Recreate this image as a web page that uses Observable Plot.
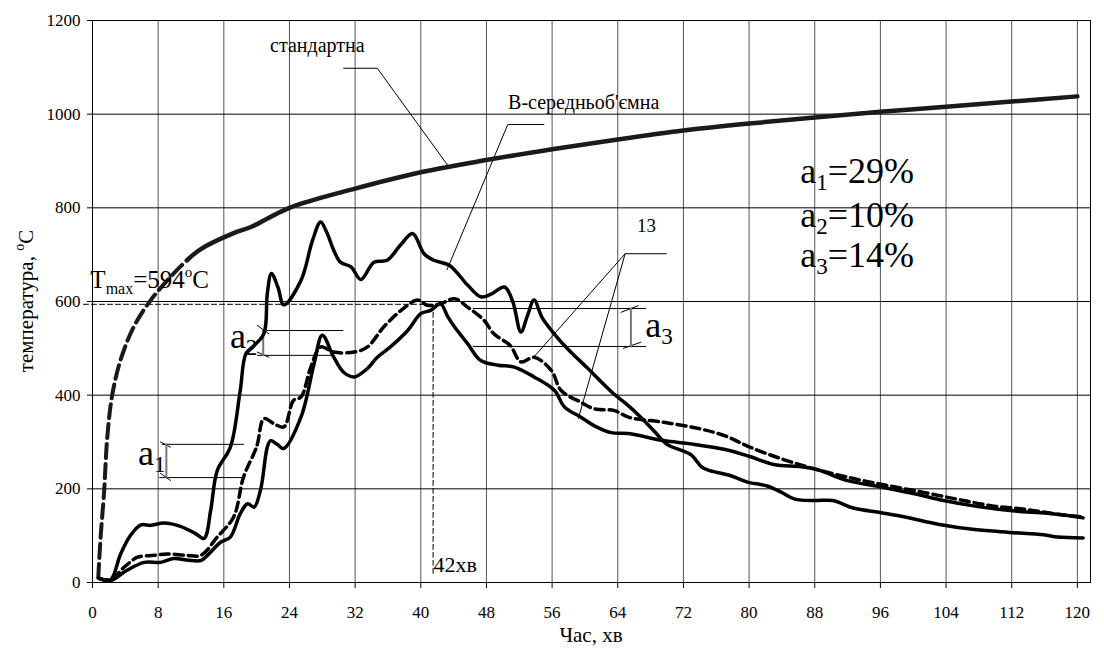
<!DOCTYPE html>
<html><head><meta charset="utf-8">
<script src="https://cdn.jsdelivr.net/npm/d3@7"></script>
<script src="https://cdn.jsdelivr.net/npm/@observablehq/plot@0.6"></script>
<style>body{margin:0;background:#fff}</style>
</head><body><div id="chart"></div>
<script>
// ---- ticks ----
const xTicks = [0, 8, 16, 24, 32, 40, 48, 56, 64, 72, 80, 88, 96, 104, 112, 120];
const yTicks = [0, 200, 400, 600, 800, 1000, 1200];

// ---- standard fire curve ----
const stdTime = [0.7, 1.0, 1.4, 1.8, 2.4, 3.4, 5.0, 7.1, 9.9, 11.5, 13.2, 17.2, 19.3, 24, 32, 40, 48, 56, 64, 72, 80, 88, 96, 104, 112, 120];
const stdTemp = [10, 100, 190, 310, 400, 474, 545, 603, 660, 688, 712, 746, 759, 800, 841, 876, 902, 925, 946, 965, 980, 993, 1005, 1016, 1027, 1038];

// ---- B - volume average (upper solid) ----
const avgTime = [0.8, 2.2, 3.4, 4.6, 5.9, 7.1, 8.7, 10.7, 12.5, 13.6, 14.4, 15.2, 16.8, 18.0, 18.7, 19.7, 20.9, 21.3, 21.8, 22.6, 23.3, 25.4, 26.8, 27.8, 28.6, 29.4, 30.2, 31.5, 32.7, 34.3, 35.9, 37.5, 39.0, 40.4, 41.6, 43.5, 45.7, 47.3, 48.5, 50.2, 51.2, 52.2, 53.0, 53.8, 54.8, 56.3, 58.0, 60.3, 63.5, 65.0, 66.8, 68.5, 70.0, 72.9, 74.2, 75.0, 77.6, 79.7, 82.2, 83.9, 85.6, 88, 90.2, 92.7, 96.1, 99, 103.2, 107.5, 111.7, 115.9, 117.6, 120.7];
const avgTemp = [9, 6, 60, 100, 123, 122, 127, 120, 105, 94, 154, 239, 289, 410, 489, 506, 532, 617, 660, 630, 593, 645, 730, 770, 745, 709, 684, 674, 647, 684, 688, 720, 745, 702, 688, 677, 635, 610, 615, 631, 600, 535, 570, 603, 565, 530, 497, 458, 403, 382, 353, 322, 295, 273, 247, 240, 229, 215, 206, 193, 178, 175, 175, 159, 149, 140, 124, 113, 107, 102, 97, 95];

// ---- 13 (lower solid) ----
const lowTime = [0.8, 2.2, 4.2, 6.3, 8.3, 9.9, 11.5, 13.2, 14.0, 15.6, 16.8, 18.0, 18.9, 19.7, 20.5, 21.3, 21.7, 22.5, 23.3, 25.4, 27.0, 28.0, 29.4, 30.6, 31.9, 33.5, 34.7, 36.3, 38.4, 40.0, 41.2, 42.4, 43.3, 44.1, 45.7, 47.3, 49.4, 51.4, 53.8, 56.3, 57.5, 59.5, 61.1, 63.2, 65.3, 69.6, 72.9, 77.1, 80.1, 83, 86.4, 88.5, 91.9, 96.1, 100.3, 103.7, 107.9, 112.1, 116.3, 118.8, 120.7];
const lowTemp = [9, 4, 26, 43, 43, 51, 48, 47, 58, 86, 97, 147, 168, 161, 200, 289, 303, 295, 286, 353, 467, 528, 481, 449, 439, 457, 481, 503, 538, 574, 581, 595, 567, 546, 510, 474, 464, 460, 439, 410, 375, 353, 335, 320, 318, 303, 296, 284, 269, 252, 247, 240, 218, 204, 189, 175, 162, 153, 148, 143, 138];

// ---- 13 (dashed) ----
const dashTime = [0.8, 2.2, 4.0, 5.5, 7.5, 9.1, 11.5, 13.2, 15.2, 17.2, 18.4, 20.0, 20.9, 22.1, 23.3, 24.5, 25.4, 26.6, 27.8, 29.4, 31.9, 33.5, 35.5, 37.6, 39.6, 40.8, 42.4, 44.1, 45.7, 47.7, 48.9, 50.9, 52.2, 53.8, 55.9, 57.1, 59.5, 61.1, 63.6, 65.3, 69.6, 73.8, 77.1, 80.1, 84.3, 88.5, 92.7, 96.9, 101.1, 105.3, 109.5, 113.7, 117.9, 120.7];
const dashTemp = [9, 6, 35, 54, 58, 61, 58, 58, 97, 140, 225, 290, 350, 339, 332, 389, 396, 460, 503, 492, 492, 503, 546, 581, 603, 592, 595, 606, 588, 560, 531, 506, 471, 481, 453, 410, 385, 371, 367, 353, 342, 329, 313, 289, 262, 240, 222, 207, 193, 178, 164, 156, 145, 140];

// ---- Tmax markers ----
const tmaxValue = 594;
const tmaxTime = 41.5;

// ---- leader lines & brackets (data units) ----
const leaderStd = [[30.6, 1098], [34.7, 1098], [43.4, 888]];
const leaderAvg = [[55.0, 978], [50.6, 978], [43.2, 668]];
const leader13a = [[69.9, 702], [64.9, 702], [53.7, 480]];
const leader13b = [[64.9, 702], [59.2, 350]];
const bracketLines = [
  [[8.5, 295], [18.4, 295]], [[8.2, 224], [18.4, 224]],
  [[8.29, 300], [9.5, 289]], [[8.29, 233], [9.5, 218]],
  [[20.8, 538], [30.5, 538]], [[20.1, 485], [29.4, 485]],
  [[20.07, 549], [21.5, 531]], [[20.07, 492], [21.5, 481]],
  [[46.4, 585], [67.4, 585]], [[46.4, 504], [67.4, 504]],
  [[64.4, 577], [66.5, 591]], [[64.7, 500], [66.8, 513]]
];
const bracketStems = [[[9.0, 295], [9.0, 224]], [[20.8, 538], [20.8, 485]], [[65.6, 585], [65.6, 504]]];

const rows = (ts, vs) => ts.map((t, i) => ({t, v: vs[i]}));
const std = rows(stdTime, stdTemp);
const stdDash = std.filter(d => d.t <= 11.5);
const stdSolid = std.filter(d => d.t >= 11.5);
const avg = rows(avgTime, avgTemp);
const low = rows(lowTime, lowTemp);
const dsh = rows(dashTime, dashTemp);
const pts = a => a.map(([t, v]) => ({t, v}));

const FONT = "Liberation Serif, Times New Roman, DejaVu Serif, serif";

const plot = Plot.plot({
  width: 1104,
  height: 661,
  marginLeft: 92,
  marginRight: 14,
  marginTop: 20,
  marginBottom: 79,
  x: {domain: [0, 121.6]},
  y: {domain: [0, 1200]},
  style: {fontFamily: FONT, fontSize: "17px", background: "white", color: "black"},
  marks: [
    Plot.gridX(xTicks, {stroke: "#555", strokeOpacity: 1}),
    Plot.gridY(yTicks, {stroke: "#000", strokeOpacity: 1}),
    Plot.frame({stroke: "black"}),
    Plot.axisX(xTicks, {tickSize: 6, tickPadding: 17, label: null, fontSize: 17, tickFormat: d => String(d)}),
    Plot.axisY(yTicks, {tickSize: 5, tickPadding: 7, label: null, fontSize: 17, tickFormat: d => String(d)}),
    // Tmax guides
    Plot.line(pts([[-1.1, tmaxValue], [tmaxTime, tmaxValue]]), {x: "t", y: "v", stroke: "black", strokeWidth: 1, strokeDasharray: "5,3"}),
    Plot.line(pts([[tmaxTime, tmaxValue], [tmaxTime, 15]]), {x: "t", y: "v", stroke: "black", strokeWidth: 1, strokeDasharray: "5,3"}),
    // leaders
    Plot.line(pts(leaderStd), {x: "t", y: "v", stroke: "black", strokeWidth: 1}),
    Plot.line(pts(leaderAvg), {x: "t", y: "v", stroke: "black", strokeWidth: 1}),
    Plot.line(pts(leader13a), {x: "t", y: "v", stroke: "black", strokeWidth: 1}),
    Plot.line(pts(leader13b), {x: "t", y: "v", stroke: "black", strokeWidth: 1}),
    ...bracketLines.map(l => Plot.line(pts(l), {x: "t", y: "v", stroke: "black", strokeWidth: 1})),
    ...bracketStems.map(l => Plot.line(pts(l), {x: "t", y: "v", stroke: "#777", strokeWidth: 2})),
    // curves
    Plot.line(stdDash, {x: "t", y: "v", stroke: "#1a1a1a", strokeWidth: 4, strokeDasharray: "14,6", curve: "catmull-rom"}),
    Plot.line(stdSolid, {x: "t", y: "v", stroke: "#1a1a1a", strokeWidth: 4.5, curve: "catmull-rom"}),
    Plot.line(dsh, {x: "t", y: "v", stroke: "black", strokeWidth: 3.5, strokeDasharray: "9,5", curve: "catmull-rom"}),
    Plot.line(low, {x: "t", y: "v", stroke: "black", strokeWidth: 3.5, curve: "catmull-rom"}),
    Plot.line(avg, {x: "t", y: "v", stroke: "black", strokeWidth: 3.5, curve: "catmull-rom"})
  ]
});
document.getElementById("chart").appendChild(plot);

const sx = plot.scale("x"), sy = plot.scale("y");
const svg = d3.select(plot);

function rich(x, y, parts, size, rotate, anchor) {
  const el = svg.append("text")
    .attr("font-family", FONT).attr("font-size", size).attr("fill", "black")
    .attr("text-anchor", anchor || "start");
  if (rotate) {
    el.attr("transform", `translate(${x},${y}) rotate(-90)`);
  } else {
    el.attr("x", x).attr("y", y);
  }
  let prev = 0;
  parts.forEach(p => {
    const shift = p.shift || 0;
    const ts = el.append("tspan").text(p.text).attr("dy", shift - prev);
    if (p.size) ts.attr("font-size", p.size);
    prev = shift;
  });
  return el;
}

// annotations in data coordinates
const notes = [
  {t: 21.7, T: 1132, size: 20, parts: [{text: "стандартна"}]},
  {t: 50.7, T: 1010, size: 20, parts: [{text: "В-середньоб'ємна"}]},
  {t: 66.4, T: 747, size: 19, parts: [{text: "13"}]},
  {t: -0.2, T: 628, size: 25, parts: [{text: "T"}, {text: "max", size: 16, shift: 6}, {text: "=594"}, {text: "o", size: 15, shift: -11}, {text: "C"}]},
  {t: 41.6, T: 21, size: 22, parts: [{text: "42хв"}]},
  {t: 5.6, T: 250, size: 36, parts: [{text: "a"}, {text: "1", size: 23, shift: 7}]},
  {t: 16.8, T: 500, size: 36, parts: [{text: "a"}, {text: "2", size: 23, shift: 7}]},
  {t: 67.4, T: 523, size: 36, parts: [{text: "a"}, {text: "3", size: 23, shift: 7}]},
  {t: 86.3, T: 852, size: 36, parts: [{text: "a"}, {text: "1", size: 23, shift: 7}, {text: "=29%"}]},
  {t: 86.3, T: 758, size: 36, parts: [{text: "a"}, {text: "2", size: 23, shift: 7}, {text: "=10%"}]},
  {t: 86.3, T: 673, size: 36, parts: [{text: "a"}, {text: "3", size: 23, shift: 7}, {text: "=14%"}]}
];
notes.forEach(n => rich(sx.apply(n.t), sy.apply(n.T), n.parts, n.size));

// axis titles
const xMid = (sx.range[0] + sx.range[1]) / 2;
const yMid = (sy.range[0] + sy.range[1]) / 2;
rich(xMid, 642, [{text: "Час, хв"}], 21, false, "middle");
rich(33, yMid, [{text: "температура, "}, {text: "o", size: 14, shift: -9}, {text: "C"}], 21, true, "middle");
</script>
</body></html>
